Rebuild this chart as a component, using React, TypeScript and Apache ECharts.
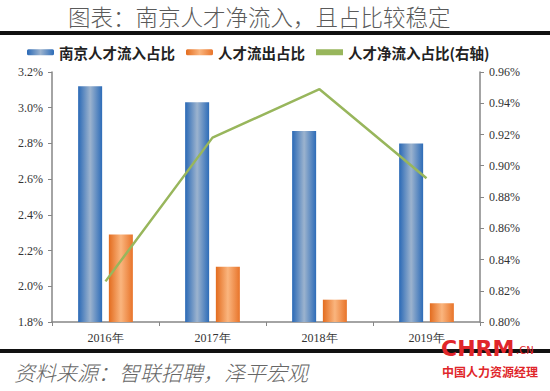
import React, { useEffect, useRef } from "react";
import * as echarts from "echarts";

const categories = ["2016年", "2017年", "2018年", "2019年"];
const inflowShare = [3.12, 3.03, 2.87, 2.8];
const outflowShare = [2.29, 2.11, 1.925, 1.905];
const netInflowShare = [0.826, 0.918, 0.949, 0.892];
const seriesNames = ["南京人才流入占比", "人才流出占比", "人才净流入占比(右轴)"];
const titleText = "图表：南京人才净流入，且占比较稳定";
const sourceText = "资料来源：智联招聘，泽平宏观";

export default function App() {
  const ref = useRef<HTMLDivElement>(null);
  useEffect(() => {
    if (!ref.current) return;
    const chart = echarts.init(ref.current, undefined, { renderer: "svg" });
    const blue = new echarts.graphic.LinearGradient(0, 0, 1, 0, [
      { offset: 0, color: "#2A69B6" },
      { offset: 0.5, color: "#9CB3CE" },
      { offset: 1, color: "#2D6CB8" },
    ]);
    const orange = new echarts.graphic.LinearGradient(0, 0, 1, 0, [
      { offset: 0, color: "#E36C1F" },
      { offset: 0.5, color: "#FAB57E" },
      { offset: 1, color: "#E8742A" },
    ]);
    const serif = "'Liberation Serif', 'Times New Roman', serif";
    const axisLine = { show: true, lineStyle: { color: "#868686", width: 1.5 } };
    chart.setOption({
      animation: false,
      backgroundColor: "#ffffff",
      grid: { left: 52, right: 70, top: 72, bottom: 69 },
      legend: {
        left: 27,
        top: 45,
        padding: 0,
        itemWidth: 27,
        itemHeight: 6,
        itemGap: 11,
        textStyle: {
          fontSize: 14.5,
          lineHeight: 14,
          fontWeight: "bold",
          color: "#222",
          fontFamily: "'Noto Sans CJK SC', sans-serif",
        },
        data: [
          { name: seriesNames[0] },
          { name: seriesNames[1] },
          { name: seriesNames[2], icon: "rect", itemStyle: { color: "#98B65C" } },
        ],
      },
      xAxis: {
        type: "category",
        data: categories,
        axisLine,
        axisTick: { show: true, inside: false, length: 4, lineStyle: { color: "#868686" } },
        axisLabel: { color: "#333", fontSize: 12, fontFamily: serif, margin: 10 },
      },
      yAxis: [
        {
          type: "value",
          min: 1.8,
          max: 3.2,
          interval: 0.2,
          position: "left",
          axisLine,
          axisTick: { show: true, length: 4, lineStyle: { color: "#868686" } },
          splitLine: { show: false },
          axisLabel: {
            color: "#333",
            fontSize: 12,
            fontFamily: serif,
            margin: 9,
            formatter: (v: number) => v.toFixed(1) + "%",
          },
        },
        {
          type: "value",
          min: 0.8,
          max: 0.96,
          interval: 0.02,
          position: "right",
          axisLine,
          axisTick: { show: true, length: 4, lineStyle: { color: "#868686" } },
          splitLine: { show: false },
          axisLabel: {
            color: "#333",
            fontSize: 12,
            fontFamily: serif,
            margin: 9,
            formatter: (v: number) => v.toFixed(2) + "%",
          },
        },
      ],
      series: [
        {
          name: seriesNames[0],
          type: "bar",
          data: inflowShare,
          barWidth: 24,
          barGap: "28%",
          itemStyle: { color: blue },
        },
        {
          name: seriesNames[1],
          type: "bar",
          data: outflowShare,
          barWidth: 24,
          itemStyle: { color: orange },
        },
        {
          name: seriesNames[2],
          type: "line",
          yAxisIndex: 1,
          data: netInflowShare,
          symbol: "none",
          lineStyle: { color: "#98B65C", width: 2.5 },
          itemStyle: { color: "#98B65C" },
        },
      ],
      graphic: [
        {
          type: "text",
          left: 68,
          top: 5,
          style: {
            text: titleText,
            fontSize: 22.5,
            fill: "#5a5a5a",
            fontFamily: "'Noto Sans CJK SC', sans-serif",
            fontWeight: 300,
          },
        },
        { type: "rect", shape: { x: 0, y: 31, width: 550, height: 4 }, style: { fill: "#111" } },
        { type: "rect", shape: { x: 0, y: 349, width: 550, height: 4 }, style: { fill: "#111" } },
        {
          type: "text",
          left: 14,
          top: 361,
          style: {
            text: sourceText,
            fontSize: 21,
            fill: "#666",
            fontStyle: "italic",
            fontFamily: "'Noto Sans CJK SC', sans-serif",
            fontWeight: 300,
          },
        },
        {
          type: "text",
          left: 441,
          top: 337,
          style: {
            text: "CHRM",
            fontSize: 22,
            fontWeight: "bold",
            fill: "#E0262A",
            fontFamily: "'DejaVu Sans', sans-serif",
          },
        },
        {
          type: "text",
          left: 516,
          top: 345,
          style: { text: ".CN", fontSize: 10, fill: "#E0262A", fontFamily: "'DejaVu Sans', sans-serif" },
        },
        {
          type: "text",
          left: 442,
          top: 365,
          style: {
            text: "中国人力资源经理",
            fontSize: 12,
            fontWeight: "bold",
            fill: "#E0262A",
            fontFamily: "'Noto Sans CJK SC', sans-serif",
          },
        },
      ],
    });
    return () => chart.dispose();
  }, []);
  return (
    <div
      ref={ref}
      style={{ position: "fixed", left: 0, top: 0, width: 550, height: 391, background: "#fff" }}
    />
  );
}
